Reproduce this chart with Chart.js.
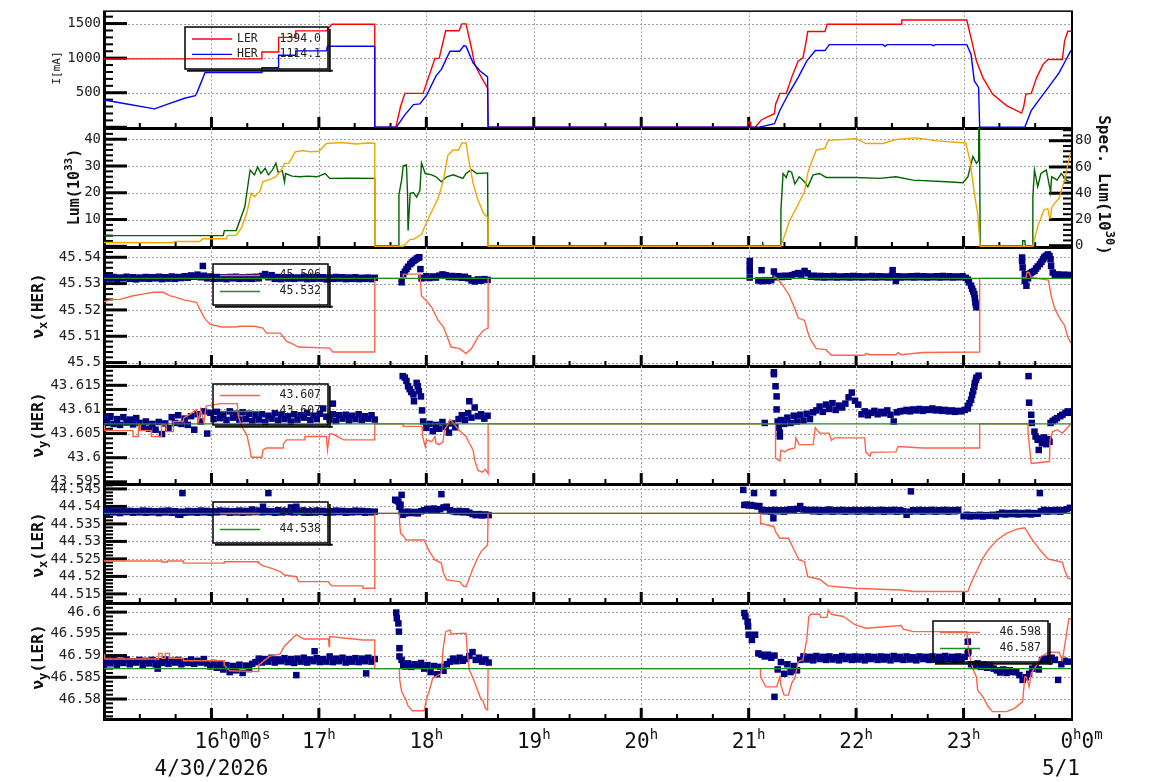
<!DOCTYPE html>
<html><head><meta charset="utf-8">
<script src="https://cdn.jsdelivr.net/npm/chart.js@4/dist/chart.umd.min.js"></script>
<style>
html,body{margin:0;padding:0;background:#fff;}
#wrap{position:relative;width:1154px;height:782px;overflow:hidden;}
canvas{position:absolute;left:0;top:0;}
</style></head>
<body><div id="wrap">
<canvas id="c1" width="1154" height="782"></canvas>
<canvas id="c2" width="1154" height="782"></canvas>
<canvas id="c3" width="1154" height="782"></canvas>
<canvas id="c4" width="1154" height="782"></canvas>
<canvas id="c5" width="1154" height="782"></canvas>
<canvas id="c6" width="1154" height="782"></canvas>
</div>
<script>
// ---------------- DATA ----------------
const X_LABELS = ['16^h0^m0^s','17^h','18^h','19^h','20^h','21^h','22^h','23^h','0^h0^m'];
const X_LABEL_HOURS = [16,17,18,19,20,21,22,23,24];
const DATE_LABELS = ['4/30/2026','5/1'];
const DATE_HOURS = [16,24];
const GRID_HOURS = [16,17,18,19,20,21,22,23];

const I_TICKS = [0,500,1000,1500];
const LUM_TICKS = [0,10,20,30,40];
const SPEC_TICKS = [0,20,40,60,80];
const HX_TICKS = [45.5,45.51,45.52,45.53,45.54];
const HY_TICKS = [43.595,43.6,43.605,43.61,43.615];
const LX_TICKS = [44.515,44.52,44.525,44.53,44.535,44.54,44.545];
const LY_TICKS = [46.58,46.585,46.59,46.595,46.6];

const LER_I = [[15.0,990],[16.467,990],[16.47,1090],[16.62,1090],[16.625,1300],[16.78,1300],[16.785,1395],[17.07,1395],[17.12,1490],[17.52,1490],[17.52,0],[17.716,0],[17.76,300],[17.80,490],[17.97,490],[18.08,996],[18.12,1000],[18.18,1396],[18.305,1396],[18.33,1495],[18.37,1495],[18.39,1350],[18.42,1147],[18.45,910],[18.50,757],[18.57,567],[18.575,0],[20.985,0],[20.995,76],[21.015,76],[21.02,0],[21.06,0],[21.12,110],[21.24,196],[21.25,330],[21.29,490],[21.35,490],[21.40,719],[21.46,957],[21.505,1005],[21.53,1200],[21.55,1386],[21.71,1386],[21.73,1490],[22.42,1490],[22.425,1552],[23.03,1552],[23.07,1290],[23.12,957],[23.18,719],[23.27,481],[23.40,314],[23.54,205],[23.56,300],[23.58,481],[23.63,490],[23.68,719],[23.74,910],[23.785,981],[23.92,981],[23.94,1250],[23.97,1386],[24.0,1392]];
const HER_I = [[15.0,396],[15.2,340],[15.47,267],[15.6,340],[15.75,420],[15.85,457],[15.87,520],[15.94,790],[16.467,790],[16.47,861],[16.62,861],[16.625,1043],[16.78,1043],[16.785,1105],[17.07,1105],[17.08,1171],[17.52,1171],[17.52,0],[17.72,0],[17.80,180],[17.88,329],[17.94,338],[18.0,457],[18.09,743],[18.14,838],[18.22,1100],[18.31,1100],[18.35,1181],[18.37,1170],[18.435,933],[18.50,814],[18.57,729],[18.575,0],[21.09,0],[21.24,52],[21.29,243],[21.37,481],[21.46,719],[21.54,957],[21.62,1110],[21.71,1110],[21.75,1195],[22.25,1195],[22.27,1170],[22.29,1195],[22.7,1195],[22.72,1180],[22.74,1195],[23.03,1195],[23.07,1052],[23.10,671],[23.14,576],[23.15,0],[23.57,0],[23.63,243],[23.72,433],[23.80,600],[23.89,790],[23.955,981],[24.0,1114]];
const I_LEGEND_NAMES = ['LER','HER'];
const I_LEGEND_VALUES = ['1394.0','1114.1'];

const LUM = [[15.0,1.4],[15.64,1.3],[15.66,1.8],[15.89,1.8],[15.92,2.8],[16.14,2.8],[16.15,4.1],[16.23,4.1],[16.28,7],[16.33,12.5],[16.37,19.9],[16.40,18.5],[16.45,20.5],[16.48,24.2],[16.55,25],[16.60,26],[16.65,28.5],[16.68,31],[16.72,31],[16.78,35.3],[16.85,35.8],[16.92,35.3],[17.0,35.5],[17.07,38.4],[17.2,38.8],[17.35,38.2],[17.45,38.6],[17.52,38.5],[17.52,0],[17.785,0],[17.85,2.6],[17.88,2.6],[17.955,4.4],[18.0,8.8],[18.05,13],[18.11,18],[18.16,24.8],[18.20,34],[18.25,36],[18.30,36],[18.33,38.6],[18.37,38.6],[18.39,33.5],[18.435,23.6],[18.48,17.4],[18.53,12.5],[18.575,10.6],[18.575,0],[21.30,0],[21.38,9.4],[21.46,15.6],[21.52,20.5],[21.55,27.3],[21.58,31],[21.63,36],[21.71,36.6],[21.74,39.6],[22.0,40.2],[22.09,38.4],[22.25,38.4],[22.37,39.9],[22.56,40.5],[22.75,39.4],[23.02,38.6],[23.06,32.2],[23.10,19.9],[23.13,12.5],[23.15,2.6],[23.155,0],[23.645,0],[23.69,7.5],[23.75,13.7],[23.785,14],[23.80,10.6],[23.81,10.6],[23.82,14.5],[23.85,16.2],[23.89,18],[23.94,24.8],[23.99,34],[24.0,35]];
const SPEC = [[15.0,7.7],[16.11,7.7],[16.12,11.5],[16.23,11.5],[16.31,29.5],[16.36,57.7],[16.40,54],[16.43,60],[16.46,55],[16.50,59],[16.53,54],[16.57,58],[16.60,62.8],[16.62,56],[16.66,57],[16.68,48.7],[16.69,55],[16.75,53],[16.82,52.5],[16.9,53],[16.98,52.5],[17.06,55],[17.10,51.3],[17.3,51.5],[17.52,51.3],[17.52,0],[17.74,0],[17.745,39],[17.77,50],[17.785,60.9],[17.815,61.5],[17.825,40],[17.83,11.5],[17.85,40],[17.88,40.5],[17.91,37],[17.94,42],[17.955,63],[17.99,55],[18.05,54],[18.09,52.5],[18.14,48.7],[18.19,52.5],[18.25,54],[18.34,51.3],[18.37,55],[18.42,58],[18.47,55],[18.57,55.5],[18.575,0],[21.13,0],[21.13,3],[21.135,0],[21.30,0],[21.30,26.9],[21.32,55],[21.35,52],[21.37,57],[21.40,56],[21.43,47],[21.47,52.5],[21.52,48.7],[21.55,44.9],[21.60,54],[21.66,55],[21.72,52],[22.0,52],[22.22,51.3],[22.37,52.5],[22.53,50],[22.84,48.7],[22.995,48],[23.04,52.5],[23.087,68],[23.12,62.8],[23.14,65],[23.145,120],[23.15,120],[23.155,0],[23.55,0],[23.55,3.8],[23.57,3.8],[23.575,0],[23.645,0],[23.645,37],[23.66,57.7],[23.69,45],[23.72,55],[23.77,57.7],[23.81,41],[23.82,52.5],[23.87,50],[23.91,55],[23.955,50],[23.99,48.7],[24.0,49]];

const HX_REF = 45.532;
const HX_SET = [[15.0,45.5231],[15.07,45.5239],[15.15,45.524],[15.27,45.5254],[15.36,45.526],[15.46,45.5267],[15.55,45.5267],[15.61,45.5254],[15.68,45.5247],[15.74,45.5238],[15.86,45.5229],[15.89,45.5204],[15.94,45.5166],[15.99,45.5145],[16.09,45.5135],[16.22,45.5135],[16.27,45.5138],[16.40,45.5138],[16.48,45.5131],[16.51,45.5112],[16.64,45.5112],[16.70,45.508],[16.75,45.5072],[16.81,45.5059],[17.10,45.5055],[17.13,45.504],[17.52,45.504],[17.52,45.532],[17.785,45.532],[17.785,45.5336],[17.94,45.5336],[17.955,45.5254],[18.0,45.5235],[18.05,45.521],[18.11,45.516],[18.16,45.5135],[18.19,45.5103],[18.23,45.5059],[18.31,45.5053],[18.37,45.5034],[18.42,45.5053],[18.48,45.5097],[18.53,45.5122],[18.575,45.5131],[18.575,45.532],[21.24,45.532],[21.24,45.5326],[21.27,45.5317],[21.32,45.5292],[21.38,45.5254],[21.43,45.5204],[21.46,45.517],[21.52,45.516],[21.55,45.5116],[21.58,45.5084],[21.63,45.5053],[21.72,45.5049],[21.77,45.5028],[22.08,45.5028],[22.09,45.5034],[22.13,45.503],[22.37,45.503],[22.39,45.5038],[22.42,45.503],[22.62,45.5038],[23.15,45.504],[23.15,45.532],[23.58,45.532],[23.59,45.5342],[23.61,45.5342],[23.63,45.5323],[23.79,45.5313],[23.815,45.5254],[23.85,45.5204],[23.89,45.5172],[23.94,45.5141],[23.97,45.5097],[24.0,45.5074]];
const HX_MEAS_A = [45.5318,45.5324,45.5319,45.5325,45.5317,45.5323,45.5320,45.5326,45.5318,45.5324,45.5316,45.5323,45.5319,45.5325,45.5318,45.5324,45.5320,45.5326,45.5317,45.5324,45.5319,45.5327,45.5318,45.5325,45.5321,45.5328,45.5322,45.5331,45.5326,45.5334,45.5324,45.5330,45.5320,45.5327,45.5318,45.5325,45.5319,45.5324,45.5317,45.5325,45.5320,45.5326,45.5318,45.5324,45.5319,45.5325,45.5318,45.5326,45.5320,45.5329,45.5336,45.5324,45.5332,45.5318,45.5325,45.5317,45.5324,45.5319,45.5325,45.5318,45.5323,45.5320,45.5326,45.5317,45.5324,45.5318,45.5325,45.5319,45.5324,45.5316,45.5323,45.5318,45.5325,45.5319,45.5324,45.5317,45.5323,45.5318,45.5324,45.5317,45.5322,45.5318,45.5323,45.5317,45.5322];
const HX_MEAS_B = [45.5322,45.5328,45.5321,45.5327,45.5323,45.5330,45.5335,45.5332,45.5325,45.5329,45.5324,45.5328,45.5322,45.5326,45.5320,45.5312,45.5308,45.5316,45.5311,45.5317,45.5314];
const HX_MEAS_C = [45.5324,45.5329,45.5325,45.5330,45.5326,45.5332,45.5336,45.5340,45.5334,45.5348,45.5339,45.5326,45.5330,45.5324,45.5329,45.5323,45.5328,45.5324,45.5329,45.5323,45.5327,45.5324,45.5328,45.5323,45.5329,45.5324,45.5328,45.5323,45.5327,45.5324,45.5329,45.5323,45.5328,45.5324,45.5327,45.5323,45.5329,45.5324,45.5328,45.5323,45.5327,45.5324,45.5328,45.5323,45.5329,45.5324,45.5328,45.5323,45.5327,45.5324,45.5328,45.5323,45.5329,45.5324,45.5328,45.5323,45.5327,45.5324,45.5328,45.5322];
const HX_MEAS_PTS = [[15.92,45.5367],[17.77,45.5305],[17.785,45.5336],[17.80,45.5345],[17.815,45.5355],[17.83,45.5364],[17.85,45.5374],[17.865,45.538],[17.88,45.5386],[17.895,45.539],[17.91,45.5395],[17.925,45.5398],[17.935,45.54],[17.945,45.5355],[17.955,45.532],[21.01,45.5386],[21.01,45.5367],[21.01,45.5348],[21.01,45.5323],[21.09,45.5312],[21.12,45.5309],[21.12,45.5351],[21.15,45.5313],[21.18,45.531],[21.21,45.5313],[21.235,45.5346],[22.34,45.5351],[22.37,45.531],[23.04,45.5315],[23.05,45.5305],[23.07,45.5292],[23.08,45.528],[23.09,45.527],[23.10,45.526],[23.105,45.5245],[23.11,45.5229],[23.115,45.522],[23.12,45.521],[23.545,45.5399],[23.545,45.5385],[23.55,45.5361],[23.57,45.5336],[23.57,45.531],[23.585,45.5292],[23.60,45.532],[23.61,45.533],[23.625,45.534],[23.64,45.5344],[23.66,45.5348],[23.675,45.5357],[23.69,45.5365],[23.71,45.5374],[23.725,45.5383],[23.74,45.5392],[23.75,45.5399],[23.765,45.5405],[23.785,45.5411],[23.80,45.5405],[23.81,45.5392],[23.815,45.5367],[23.83,45.5342],[23.85,45.5332],[23.88,45.5335],[23.91,45.533],[23.94,45.5334],[23.97,45.5331],[24.0,45.5333]];
const HX_LEGEND = ['45.506','45.532'];

const HY_REF = 43.607;
const HY_SET = [[15.0,43.6068],[15.01,43.6056],[15.27,43.6056],[15.27,43.6044],[15.32,43.6044],[15.32,43.6068],[15.34,43.6068],[15.34,43.6056],[15.44,43.6056],[15.44,43.6044],[15.535,43.6044],[15.535,43.6068],[15.58,43.6068],[15.58,43.6054],[15.645,43.6054],[15.645,43.6075],[15.74,43.6075],[15.74,43.6082],[15.82,43.6093],[15.86,43.61],[15.88,43.6075],[15.9,43.61],[15.93,43.6072],[15.95,43.6107],[16.08,43.6112],[16.24,43.6112],[16.25,43.6086],[16.28,43.6065],[16.33,43.6047],[16.36,43.6016],[16.37,43.6001],[16.47,43.6001],[16.48,43.6016],[16.51,43.602],[16.67,43.602],[16.67,43.6029],[16.70,43.6037],[16.87,43.6037],[16.87,43.6044],[17.07,43.6044],[17.08,43.6016],[17.10,43.6049],[17.13,43.6049],[17.23,43.6037],[17.52,43.6037],[17.52,43.607],[17.785,43.607],[17.785,43.6065],[17.96,43.6065],[17.965,43.6044],[17.99,43.6023],[18.0,43.6037],[18.05,43.6033],[18.08,43.6044],[18.09,43.603],[18.12,43.6027],[18.155,43.6033],[18.17,43.6058],[18.19,43.6065],[18.22,43.6079],[18.25,43.6072],[18.30,43.6058],[18.37,43.6044],[18.40,43.603],[18.435,43.6016],[18.45,43.5995],[18.48,43.5974],[18.52,43.597],[18.55,43.5976],[18.575,43.5967],[18.575,43.607],[21.25,43.607],[21.25,43.5999],[21.29,43.5993],[21.30,43.6016],[21.335,43.6012],[21.37,43.6017],[21.43,43.602],[21.44,43.6041],[21.47,43.6027],[21.60,43.6027],[21.62,43.6062],[21.66,43.6051],[21.75,43.6051],[21.77,43.6036],[21.80,43.6041],[22.08,43.6041],[22.09,43.6012],[22.13,43.6003],[22.14,43.6011],[22.37,43.6012],[22.39,43.6023],[22.62,43.602],[23.15,43.602],[23.15,43.607],[23.60,43.607],[23.60,43.6051],[23.63,43.5988],[23.80,43.5992],[23.805,43.6037],[23.83,43.6054],[23.87,43.6058],[23.92,43.6051],[23.95,43.6058],[23.99,43.6068],[24.0,43.6068]];
const HY_MEAS_A = [43.6083,43.6072,43.6086,43.6070,43.6080,43.6068,43.6084,43.6073,43.6079,43.6069,43.6082,43.6072,43.6062,43.6075,43.6060,43.6070,43.6058,43.6074,43.6049,43.6071,43.6061,43.6084,43.6072,43.6088,43.6070,43.6081,43.6068,43.6086,43.6058,43.6090,43.6075,43.6096,43.6050,43.6093,43.6080,43.6095,43.6082,43.6090,43.6078,43.6096,43.6083,43.6091,43.6079,43.6094,43.6080,43.6091,43.6076,43.6088,43.6079,43.6090,43.6074,43.6087,43.6081,43.6092,43.6077,43.6089,43.6080,43.6086,43.6075,43.6090,43.6079,43.6088,43.6083,43.6093,43.6078,43.6087,43.6080,43.6091,43.6102,43.6085,43.6079,43.6090,43.6076,43.6088,43.6081,43.6089,43.6077,43.6087,43.6080,43.6090,43.6078,43.6086,43.6081,43.6088,43.6079];
const HY_MEAS_B = [43.6075,43.6062,43.6070,43.6055,43.6068,43.6060,43.6074,43.6064,43.6052,43.6071,43.6063,43.6080,43.6088,43.6078,43.6092,43.6083,43.6104,43.6086,43.6090,43.6081,43.6087];
const HY_MEAS_C = [43.6078,43.6070,43.6083,43.6072,43.6087,43.6075,43.6089,43.6077,43.6091,43.6080,43.6094,43.6098,43.6106,43.6095,43.6110,43.6101,43.6113,43.6099,43.6108,43.6104,43.6112,43.6125,43.6135,43.6118,43.6110,43.6090,43.6096,43.6088,43.6093,43.6097,43.6090,43.6095,43.6092,43.6098,43.6089,43.6075,43.6094,43.6096,43.6097,43.6099,43.6096,43.6100,43.6098,43.6101,43.6097,43.6100,43.6099,43.6102,43.6098,43.6100,43.6097,43.6099,43.6096,43.6098,43.6095,43.6097,43.6096,43.6099,43.6102];
const HY_MEAS_PTS = [[17.13,43.6112],[17.78,43.6169],[17.80,43.6166],[17.815,43.6159],[17.83,43.6148],[17.845,43.6142],[17.86,43.6136],[17.88,43.6131],[17.885,43.6117],[17.91,43.6155],[17.92,43.6148],[17.93,43.6138],[17.95,43.6127],[17.96,43.6098],[18.40,43.6117],[21.15,43.6072],[21.235,43.6177],[21.235,43.6173],[21.25,43.6148],[21.26,43.6127],[21.26,43.61],[21.27,43.6075],[21.28,43.6062],[21.29,43.6044],[21.29,43.6052],[23.04,43.6107],[23.055,43.6113],[23.07,43.612],[23.08,43.613],[23.09,43.6138],[23.10,43.6147],[23.105,43.6155],[23.115,43.6161],[23.12,43.6166],[23.14,43.617],[23.605,43.6169],[23.61,43.6114],[23.63,43.6089],[23.635,43.6072],[23.66,43.6054],[23.67,43.6044],[23.69,43.6037],[23.70,43.6016],[23.71,43.6040],[23.73,43.6030],[23.75,43.6042],[23.77,43.6028],[23.79,43.6038],[23.80,43.6033],[23.81,43.6072],[23.83,43.6076],[23.85,43.6079],[23.87,43.6082],[23.90,43.6086],[23.92,43.6089],[23.95,43.6093],[23.97,43.6096],[23.99,43.6093]];
const HY_LEGEND = ['43.607','43.607'];

const LX_REF = 44.538;
const LX_SET = [[15.0,44.5244],[15.54,44.5244],[15.54,44.5241],[15.59,44.5241],[15.59,44.5244],[15.74,44.5244],[15.74,44.5238],[16.12,44.5238],[16.12,44.5242],[16.44,44.5242],[16.44,44.5238],[16.48,44.523],[16.54,44.5225],[16.64,44.5214],[16.68,44.5204],[16.79,44.5199],[16.81,44.5185],[17.09,44.5185],[17.10,44.5179],[17.12,44.5173],[17.41,44.5173],[17.41,44.5166],[17.52,44.5166],[17.52,44.538],[17.75,44.538],[17.75,44.5361],[17.76,44.5323],[17.79,44.5314],[17.81,44.5304],[17.98,44.5304],[18.0,44.529],[18.03,44.5271],[18.08,44.5247],[18.14,44.5238],[18.16,44.5209],[18.19,44.519],[18.31,44.5185],[18.35,44.5171],[18.37,44.5171],[18.40,44.5195],[18.435,44.5223],[18.47,44.5247],[18.51,44.5271],[18.54,44.5281],[18.57,44.529],[18.575,44.538],[21.11,44.538],[21.11,44.5352],[21.235,44.5342],[21.25,44.5328],[21.29,44.5309],[21.37,44.5309],[21.40,44.529],[21.43,44.5271],[21.47,44.5247],[21.52,44.5242],[21.55,44.5199],[21.66,44.5192],[21.74,44.5173],[21.88,44.5169],[21.99,44.5166],[22.42,44.5161],[22.53,44.5157],[23.04,44.5157],[23.07,44.5181],[23.12,44.5214],[23.18,44.5252],[23.23,44.5276],[23.31,44.5304],[23.40,44.5323],[23.495,44.5335],[23.57,44.5339],[23.63,44.5309],[23.71,44.5276],[23.785,44.525],[23.92,44.524],[23.94,44.5219],[23.97,44.5195],[24.0,44.5193]];
const LX_MEAS_A = [44.5387,44.5382,44.5388,44.5383,44.5386,44.5381,44.5388,44.5384,44.5387,44.5382,44.5386,44.5383,44.5388,44.5382,44.5387,44.5383,44.5386,44.5381,44.5387,44.5383,44.5388,44.5382,44.5386,44.5377,44.5385,44.5382,44.5387,44.5383,44.5386,44.5382,44.5388,44.5383,44.5387,44.5382,44.5386,44.5383,44.5388,44.5384,44.5387,44.5382,44.5386,44.5383,44.5388,44.5382,44.5387,44.5383,44.5391,44.5384,44.5388,44.5383,44.5387,44.5384,44.5386,44.5382,44.5389,44.5383,44.5387,44.5384,44.5397,44.5383,44.5388,44.5384,44.5387,44.5382,44.5386,44.5383,44.5388,44.5384,44.5387,44.5382,44.5386,44.5383,44.5388,44.5384,44.5387,44.5382,44.5386,44.5383,44.5388,44.5384,44.5387,44.5382,44.5386,44.5383,44.5385];
const LX_MEAS_B = [44.5380,44.5385,44.5381,44.5384,44.5380,44.5386,44.5389,44.5393,44.5390,44.5394,44.5388,44.5392,44.5397,44.5399,44.5389,44.5386,44.5384,44.5387,44.5383,44.5386,44.5382,44.5378,44.5375,44.5378,44.5374,44.5377,44.5375];
const LX_MEAS_C = [44.5390,44.5386,44.5389,44.5385,44.5390,44.5386,44.5389,44.5385,44.5390,44.5392,44.5388,44.5393,44.5401,44.5391,44.5388,44.5390,44.5386,44.5390,44.5385,44.5389,44.5386,44.5391,44.5385,44.5389,44.5386,44.5390,44.5385,44.5389,44.5386,44.5390,44.5385,44.5389,44.5386,44.5390,44.5385,44.5389,44.5386,44.5390,44.5385,44.5389,44.5386,44.5390,44.5385,44.5389,44.5386,44.5376,44.5385,44.5389,44.5386,44.5390,44.5385,44.5389,44.5386,44.5390,44.5385,44.5389,44.5386,44.5390,44.5385,44.5389,44.5386,44.5390];
const LX_MEAS_D = [44.5372,44.5376,44.5371,44.5375,44.5372,44.5376,44.5371,44.5375,44.5373,44.5376,44.5372,44.5378,44.5382,44.5377,44.5381,44.5378,44.5382,44.5377,44.5381,44.5378,44.5382,44.5377,44.5381,44.5379,44.5386,44.5390,44.5385,44.5389,44.5386,44.5390,44.5385,44.5389,44.5392,44.5396];
const LX_MEAS_PTS = [[15.71,44.5376],[15.73,44.5438],[16.48,44.5399],[16.53,44.5438],[16.79,44.5399],[17.71,44.5419],[17.72,44.5417],[17.74,44.5414],[17.75,44.5399],[17.76,44.5405],[17.77,44.5433],[17.77,44.5385],[17.78,44.5376],[18.14,44.5435],[20.95,44.5447],[20.96,44.5404],[20.98,44.5405],[21.0,44.5403],[21.02,44.5404],[21.05,44.5438],[21.05,44.5402],[21.08,44.54],[21.10,44.5401],[21.23,44.5438],[21.23,44.5366],[22.51,44.5443],[23.71,44.5438]];
const LX_LEGEND = ['44.519','44.538'];

const LY_REF = 46.587;
const LY_SET = [[15.0,46.5904],[15.01,46.5892],[15.51,46.5892],[15.51,46.5905],[15.54,46.5905],[15.54,46.5894],[15.57,46.5894],[15.57,46.5905],[15.61,46.5905],[15.61,46.5894],[15.74,46.5894],[15.74,46.5888],[16.12,46.5888],[16.12,46.5878],[16.17,46.5865],[16.44,46.5863],[16.44,46.5878],[16.48,46.5886],[16.54,46.5898],[16.64,46.5904],[16.68,46.5922],[16.79,46.5948],[16.86,46.5938],[17.09,46.5938],[17.095,46.5921],[17.10,46.5944],[17.41,46.5936],[17.52,46.5936],[17.52,46.587],[17.75,46.587],[17.75,46.5848],[17.77,46.5817],[17.81,46.5798],[17.83,46.5784],[17.87,46.5773],[17.98,46.5773],[18.0,46.5798],[18.03,46.5821],[18.06,46.5848],[18.14,46.5859],[18.155,46.5913],[18.18,46.5955],[18.22,46.5959],[18.23,46.5949],[18.31,46.5951],[18.37,46.5951],[18.38,46.5913],[18.40,46.5867],[18.435,46.5848],[18.47,46.5825],[18.50,46.5805],[18.53,46.5794],[18.55,46.5778],[18.57,46.5775],[18.575,46.587],[21.11,46.587],[21.11,46.5851],[21.16,46.5828],[21.26,46.5828],[21.29,46.5851],[21.30,46.5832],[21.33,46.5809],[21.37,46.5809],[21.40,46.5836],[21.43,46.5848],[21.46,46.5886],[21.505,46.589],[21.54,46.5936],[21.56,46.599],[21.58,46.5995],[21.66,46.5995],[21.67,46.5988],[21.73,46.5988],[21.74,46.6005],[21.77,46.5995],[21.88,46.599],[21.99,46.5971],[22.09,46.5963],[22.42,46.5969],[22.44,46.5961],[22.53,46.5955],[23.03,46.5955],[23.05,46.5905],[23.09,46.5867],[23.12,46.5851],[23.13,46.5821],[23.18,46.5805],[23.23,46.5782],[23.27,46.5771],[23.40,46.5771],[23.47,46.5778],[23.55,46.5794],[23.57,46.5851],[23.585,46.5851],[23.61,46.5828],[23.63,46.5859],[23.68,46.5878],[23.72,46.5898],[23.80,46.5908],[23.89,46.5907],[23.92,46.589],[23.955,46.5944],[23.98,46.5985],[24.0,46.5985]];
const LY_MEAS_A = [46.5880,46.5889,46.5882,46.5890,46.5879,46.5888,46.5883,46.5891,46.5880,46.5887,46.5884,46.5890,46.5879,46.5888,46.5882,46.5890,46.5880,46.5887,46.5883,46.5891,46.5881,46.5888,46.5884,46.5890,46.5880,46.5887,46.5883,46.5891,46.5881,46.5888,46.5884,46.5892,46.5882,46.5875,46.5883,46.5872,46.5880,46.5868,46.5878,46.5862,46.5876,46.5866,46.5879,46.5860,46.5877,46.5869,46.5881,46.5885,46.5893,46.5884,46.5892,46.5886,46.5895,46.5884,46.5891,46.5887,46.5894,46.5885,46.5892,46.5883,46.5893,46.5886,46.5895,46.5884,46.5891,46.5887,46.5894,46.5885,46.5892,46.5886,46.5898,46.5885,46.5893,46.5887,46.5895,46.5884,46.5892,46.5886,46.5894,46.5885,46.5893,46.5887,46.5895,46.5886,46.5892];
const LY_MEAS_B = [46.5875,46.5882,46.5874,46.5880,46.5876,46.5883,46.5870,46.5878,46.5862,46.5876,46.5857,46.5874,46.5865,46.5880,46.5886,46.5893,46.5887,46.5895,46.5888,46.5892,46.5899,46.5908,46.5890,46.5895,46.5886,46.5891,46.5884];
const LY_MEAS_C = [46.5898,46.5902,46.5895,46.5900,46.5868,46.5885,46.5858,46.5880,46.5862,46.5876,46.5866,46.5890,46.5898,46.5891,46.5897,46.5889,46.5899,46.5892,46.5897,46.5890,46.5898,46.5891,46.5896,46.5889,46.5899,46.5892,46.5897,46.5890,46.5898,46.5891,46.5897,46.5889,46.5898,46.5892,46.5897,46.5890,46.5898,46.5891,46.5897,46.5889,46.5899,46.5892,46.5897,46.5890,46.5898,46.5891,46.5896,46.5889,46.5898,46.5892,46.5897,46.5890,46.5898,46.5891,46.5897,46.5889,46.5899,46.5892,46.5897,46.5890,46.5898,46.5891,46.5897,46.5905];
const LY_MEAS_D = [46.5880,46.5876,46.5882,46.5874,46.5879,46.5872,46.5877,46.5870,46.5866,46.5861,46.5868,46.5860,46.5866,46.5862,46.5862,46.5855,46.5844,46.5850,46.5858,46.5870,46.5876,46.5868,46.5890,46.5893,46.5888,46.5895,46.5890,46.5844,46.5880,46.5888,46.5886];
const LY_MEAS_PTS = [[15.5,46.587],[16.79,46.5855],[16.96,46.591],[17.44,46.5859],[17.72,46.5999],[17.725,46.5986],[17.74,46.5974],[17.745,46.5955],[17.75,46.5917],[17.75,46.5898],[17.77,46.589],[17.785,46.5878],[20.96,46.5998],[20.97,46.599],[20.99,46.5978],[20.995,46.5967],[21.0,46.5948],[21.03,46.5936],[21.06,46.5948],[21.09,46.5905],[21.12,46.5902],[21.24,46.5805],[23.04,46.5932],[23.045,46.591]];
const LY_LEGEND = ['46.598','46.587'];

// ---------------- HELPERS ----------------
const H = 782;
const MONO = '"DejaVu Sans Mono", monospace';
const C_RED='#ff0000', C_BLUE='#0000ff', C_YEL='#f0a800', C_DGREEN='#006400', C_ORANGE='#ff6347', C_GREEN='#228b22', C_NAVY='#000080';

const xy = P => P.map(p => ({x:p[0], y:p[1]}));
const band = (t0, dt, V) => V.map((v,i) => ({x: +(t0 + i*dt).toFixed(3), y: v}));
const flat = v => [{x:15,y:v},{x:24,y:v}];

function lineDs(data, color, width, order, axis) {
  return {data, borderColor: color, backgroundColor: color, borderWidth: width, pointRadius: 0, fill: false, tension: 0, order, yAxisID: axis || 'y'};
}
function navyDs(data) {
  return {data, showLine: false, pointStyle: 'rect', radius: 4.6, pointRadius: 4.6, pointBackgroundColor: C_NAVY, pointBorderColor: C_NAVY, pointBorderWidth: 0, borderColor: C_NAVY, backgroundColor: C_NAVY, order: 3};
}
const fmtHideZero = v => (v === 0 ? '' : String(v));
const fmtNum = v => String(+(+v).toFixed(4));

function yScale(min, max, majors, fmt, pos) {
  return {
    type: 'linear', position: pos, min, max, bounds: 'data',
    afterFit(s) { s.width = pos === 'left' ? 104 : 83; },
    afterBuildTicks(s) { s.ticks = majors.map(v => ({value: v})); },
    grid: {display: false, drawTicks: false}, border: {display: false},
    ticks: {autoSkip: false, padding: pos === 'left' ? 3 : 4, color: '#222', font: {family: MONO, size: 14}, callback: fmt}
  };
}

function drawRich(ctx, parts, cx, cy, angle, size, weight) {
  ctx.save();
  ctx.translate(cx, cy); ctx.rotate(angle);
  ctx.textBaseline = 'middle'; ctx.textAlign = 'left'; ctx.fillStyle = '#111';
  const f = k => `${weight} ${k === 'n' ? size : Math.round(size * 0.72)}px ${MONO}`;
  let total = 0;
  parts.forEach(p => { ctx.font = f(p[1]); total += ctx.measureText(p[0]).width; });
  let x = -total / 2;
  parts.forEach(p => {
    ctx.font = f(p[1]);
    const dy = p[1] === 'sub' ? size * 0.33 : (p[1] === 'sup' ? -size * 0.38 : 0);
    ctx.fillText(p[0], x, dy);
    x += ctx.measureText(p[0]).width;
  });
  ctx.restore();
}

function drawLegend(ctx, L) {
  ctx.save();
  ctx.strokeStyle = '#000'; ctx.lineWidth = 1.5;
  ctx.strokeRect(L.x, L.y, L.w, L.h);
  ctx.fillStyle = '#111';
  ctx.fillRect(L.x + L.w + 0.75, L.y + 2, 2, L.h + 0.75);
  ctx.fillRect(L.x + 2, L.y + L.h + 0.75, L.w + 2.75, 2);
  ctx.font = `11.5px ${MONO}`; ctx.textBaseline = 'middle';
  L.items.forEach((it, i) => {
    const y = L.y + L.r0 + i * L.dr;
    ctx.strokeStyle = it.color; ctx.lineWidth = 1.3;
    ctx.beginPath(); ctx.moveTo(L.x + 7, y); ctx.lineTo(L.x + 47, y); ctx.stroke();
    ctx.fillStyle = '#222';
    if (it.name) { ctx.textAlign = 'left'; ctx.fillText(it.name, L.x + 52, y); }
    ctx.textAlign = 'right'; ctx.fillText(it.value, L.x + L.w - 7, y);
  });
  ctx.restore();
}

function drawXLabels(ctx, xs) {
  ctx.save();
  ctx.fillStyle = '#111'; ctx.textBaseline = 'alphabetic'; ctx.textAlign = 'left';
  const big = `21px ${MONO}`, sm = `14px ${MONO}`;
  X_LABELS.forEach((str, i) => {
    const toks = [];
    for (let k = 0; k < str.length; k++) {
      if (str[k] === '^') { toks.push([str[k+1], true]); k++; } else toks.push([str[k], false]);
    }
    const w = t => { ctx.font = t[1] ? sm : big; return ctx.measureText(t[0]).width; };
    let gw = 0;
    for (const t of toks) { gw += w(t); if (t[1]) break; }
    let x = xs.getPixelForValue(X_LABEL_HOURS[i]) - gw / 2;
    toks.forEach(t => {
      ctx.font = t[1] ? sm : big;
      ctx.fillText(t[0], x, t[1] ? 739 : 748);
      x += ctx.measureText(t[0]).width;
    });
  });
  ctx.font = big;
  DATE_LABELS.forEach((s, i) => {
    const w = ctx.measureText(s).width;
    let x = xs.getPixelForValue(DATE_HOURS[i]) - w / 2;
    if (x + w > 1080) x = 1080 - w;
    ctx.fillText(s, x, 775);
  });
  ctx.restore();
}

function framePlugin(cfg) {
  return {
    id: 'frame_' + cfg.key,
    beforeDatasetsDraw(chart) {
      const ctx = chart.ctx, a = chart.chartArea, xs = chart.scales.x, ys = chart.scales.y;
      ctx.save();
      ctx.strokeStyle = '#a0a0a0'; ctx.lineWidth = 1; ctx.setLineDash([2, 2]);
      ctx.beginPath();
      cfg.majors.forEach(v => {
        const y = Math.round(ys.getPixelForValue(v)) + 0.5;
        if (y > a.top + 2 && y < a.bottom - 2) { ctx.moveTo(a.left, y); ctx.lineTo(a.right, y); }
      });
      GRID_HOURS.forEach(h => {
        const x = Math.round(xs.getPixelForValue(h)) + 0.5;
        ctx.moveTo(x, a.top); ctx.lineTo(x, a.bottom);
      });
      ctx.stroke(); ctx.setLineDash([]);
      ctx.fillStyle = '#000';
      const yTicks = (sc, majors, step, side) => {
        const k0 = Math.ceil(sc.min / step - 1e-6), k1 = Math.floor(sc.max / step + 1e-6);
        for (let k = k0; k <= k1; k++) {
          const v = k * step;
          if (majors.some(m => Math.abs(m - v) < step * 0.01)) continue;
          const y = sc.getPixelForValue(v);
          if (side === 'left') ctx.fillRect(a.left, y - 1, 9, 2); else ctx.fillRect(a.right - 8, y - 1, 8, 2);
        }
        majors.forEach(v => {
          const y = sc.getPixelForValue(v);
          if (y >= a.top - 1 && y <= a.bottom + 1) {
            if (side === 'left') ctx.fillRect(a.left, y - 1.5, 23, 3); else ctx.fillRect(a.right - 22, y - 1.5, 22, 3);
          }
        });
      };
      yTicks(ys, cfg.majors, cfg.minor, 'left');
      if (cfg.right) yTicks(chart.scales.y2, cfg.right.majors, cfg.right.minor, 'right');
      for (let m = 15 * 60 + 20; m < 24 * 60; m += 20) {
        const x = xs.getPixelForValue(m / 60);
        if (m % 60 === 0) ctx.fillRect(x - 1.5, a.bottom - 11, 3, 11);
        else ctx.fillRect(x - 1, a.bottom - 5, 2, 5);
      }
      ctx.fillRect(a.left - 1, a.top, 3, a.bottom - a.top + 2);
      ctx.fillRect(a.right, a.top, 2, a.bottom - a.top + 2);
      ctx.fillRect(a.left - 1, a.bottom - 1, a.right - a.left + 3, 3);
      if (cfg.topBorder) ctx.fillRect(a.left - 1, a.top - 1, a.right - a.left + 3, 1.5);
      ctx.restore();
    },
    afterDatasetsDraw(chart) {
      const ctx = chart.ctx;
      if (cfg.legend) drawLegend(ctx, cfg.legend);
      cfg.titles.forEach(t => drawRich(ctx, t.parts, t.cx, t.cy, t.angle, t.size, t.weight));
      if (cfg.xlabels) drawXLabels(ctx, chart.scales.x);
    }
  };
}

function makeChart(id, cfg) {
  const scales = {
    x: {type: 'linear', min: 15, max: 24, display: false},
    y: yScale(cfg.yMin, cfg.yMax, cfg.majors, cfg.fmt, 'left')
  };
  if (cfg.right) scales.y2 = yScale(cfg.right.min, cfg.right.max, cfg.right.majors, cfg.right.fmt, 'right');
  return new Chart(document.getElementById(id), {
    type: 'line',
    data: {datasets: cfg.datasets},
    options: {
      responsive: false, animation: false, devicePixelRatio: 1, events: [],
      layout: {padding: {left: 0, right: cfg.right ? 0 : 83, top: cfg.top, bottom: H - cfg.bottom}},
      plugins: {legend: {display: false}, tooltip: {enabled: false}},
      scales
    },
    plugins: [framePlugin(cfg)]
  });
}

const nuTitle = (a, b, cy) => ({parts: [['ν','n'],[a,'sub'],['(' + b + ')','n']], cx: 39, cy, angle: -Math.PI/2, size: 16, weight: 'bold'});
const tuneLegend = (x, y, vals) => ({x, y, w: 115, h: 41, r0: 11.5, dr: 16,
  items: [{color: C_ORANGE, value: vals[0]}, {color: C_GREEN, value: vals[1]}]});

makeChart('c1', {
  key: 'I', top: 10, bottom: 128, yMin: -10, yMax: 1676, majors: I_TICKS, minor: 100, fmt: fmtHideZero, topBorder: true,
  datasets: [lineDs(xy(HER_I), C_BLUE, 1.4, 0), lineDs(xy(LER_I), C_RED, 1.4, 1)],
  legend: {x: 185, y: 27, w: 143, h: 42, r0: 12, dr: 15.3,
    items: [{color: C_RED, name: I_LEGEND_NAMES[0], value: I_LEGEND_VALUES[0]}, {color: C_BLUE, name: I_LEGEND_NAMES[1], value: I_LEGEND_VALUES[1]}]},
  titles: [{parts: [['I[mA]','n']], cx: 57, cy: 68, angle: -Math.PI/2, size: 11, weight: 'normal'}]
});

makeChart('c2', {
  key: 'L', top: 128, bottom: 247, yMin: -0.26, yMax: 44.2, majors: LUM_TICKS, minor: 2, fmt: fmtHideZero,
  right: {min: -1.0, max: 89.7, majors: SPEC_TICKS, minor: 4, fmt: v => String(v)},
  datasets: [lineDs(xy(LUM), C_YEL, 1.4, 0), lineDs(xy(SPEC), C_DGREEN, 1.4, 1, 'y2')],
  titles: [
    {parts: [['Lum(10','n'],['33','sup'],[')','n']], cx: 75, cy: 187, angle: -Math.PI/2, size: 15, weight: 'bold'},
    {parts: [['Spec. Lum(10','n'],['30','sup'],[')','n']], cx: 1103, cy: 185, angle: Math.PI/2, size: 16, weight: 'bold'}
  ]
});

makeChart('c3', {
  key: 'HX', top: 247, bottom: 366, yMin: 45.4987, yMax: 45.5439, majors: HX_TICKS, minor: 0.002, fmt: fmtNum,
  datasets: [
    lineDs(flat(HX_REF), C_GREEN, 1.3, 0),
    lineDs(xy(HX_SET), C_ORANGE, 1.4, 1),
    navyDs([].concat(band(15.0, 0.03, HX_MEAS_A), band(17.97, 0.03, HX_MEAS_B), band(21.25, 0.03, HX_MEAS_C), xy(HX_MEAS_PTS)))
  ],
  legend: tuneLegend(213, 264, HX_LEGEND),
  titles: [nuTitle('x', 'HER', 306)]
});

makeChart('c4', {
  key: 'HY', top: 366, bottom: 484, yMin: 43.59455, yMax: 43.619, majors: HY_TICKS, minor: 0.001, fmt: fmtNum,
  datasets: [
    lineDs(flat(HY_REF), C_GREEN, 1.3, 0),
    lineDs(xy(HY_SET), C_ORANGE, 1.4, 1),
    navyDs([].concat(band(15.0, 0.03, HY_MEAS_A), band(17.97, 0.03, HY_MEAS_B), band(21.30, 0.03, HY_MEAS_C), xy(HY_MEAS_PTS)))
  ],
  legend: tuneLegend(213, 384, HY_LEGEND),
  titles: [nuTitle('y', 'HER', 425)]
});

makeChart('c5', {
  key: 'LX', top: 484, bottom: 603, yMin: 44.5124, yMax: 44.5464, majors: LX_TICKS, minor: 0.001, fmt: fmtNum,
  datasets: [
    lineDs(flat(LX_REF), C_GREEN, 1.3, 0),
    lineDs(xy(LX_SET), C_ORANGE, 1.4, 1),
    navyDs([].concat(band(15.0, 0.03, LX_MEAS_A), band(17.80, 0.03, LX_MEAS_B), band(21.12, 0.03, LX_MEAS_C), band(23.0, 0.03, LX_MEAS_D), xy(LX_MEAS_PTS)))
  ],
  legend: tuneLegend(213, 502, LX_LEGEND),
  titles: [nuTitle('x', 'LER', 545)]
});

makeChart('c6', {
  key: 'LY', top: 603, bottom: 719, yMin: 46.5754, yMax: 46.6021, majors: LY_TICKS, minor: 0.001, fmt: fmtNum,
  datasets: [
    lineDs(flat(LY_REF), C_GREEN, 1.3, 0),
    lineDs(xy(LY_SET), C_ORANGE, 1.4, 1),
    navyDs([].concat(band(15.0, 0.03, LY_MEAS_A), band(17.80, 0.03, LY_MEAS_B), band(21.15, 0.03, LY_MEAS_C), band(23.07, 0.03, LY_MEAS_D), xy(LY_MEAS_PTS)))
  ],
  legend: tuneLegend(933, 621, LY_LEGEND),
  titles: [nuTitle('y', 'LER', 657)],
  xlabels: true
});
</script>
</body></html>
